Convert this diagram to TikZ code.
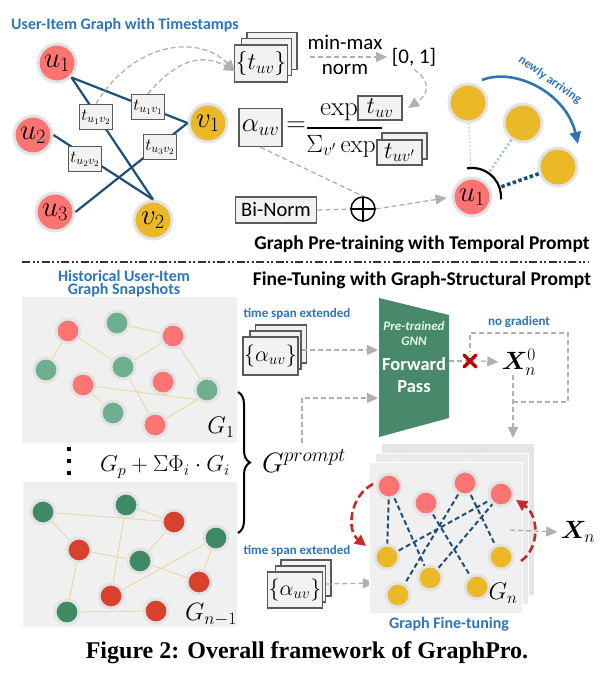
\RequirePackage{fix-cm}
\documentclass[tikz,border=0pt]{standalone}
\usepackage{fontspec}
\setsansfont{Carlito}
\newfontfamily\capfont{Liberation Serif}
\usepackage{bm}
\usetikzlibrary{arrows.meta,decorations.pathreplacing,calc}
\definecolor{cred}{HTML}{FF7373}
\definecolor{cyel}{HTML}{EBB828}
\definecolor{cring}{HTML}{E3E3E3}
\definecolor{cedge}{HTML}{1F4E79}
\definecolor{cbox}{HTML}{5A5A5A}
\definecolor{cboxf}{HTML}{F2F2F2}
\definecolor{cgray}{HTML}{B0B0B0}
\definecolor{cblue}{HTML}{2E75B6}
\definecolor{cpanel}{HTML}{F0F0F0}
\definecolor{cgl}{HTML}{6FAE8E}
\definecolor{cgd}{HTML}{3F8A64}
\definecolor{crd}{HTML}{D9412F}
\definecolor{cgnn}{HTML}{47896A}
\definecolor{cxr}{HTML}{C00000}
\definecolor{carc}{HTML}{C62A2A}
\definecolor{cgedge}{HTML}{E4DCA8}
\definecolor{clb1}{HTML}{BDD7EE}
\definecolor{clb2}{HTML}{9DC3E6}
\newcommand\setfs[1]{\fontsize{#1}{#1}\selectfont}
\begin{document}
\begin{tikzpicture}[x=1pt,y=-1pt,
  bignode/.style={circle,draw=cring,line width=3pt,minimum size=38pt,inner sep=0pt,font=\setfs{29}},
  unode/.style={bignode,fill=cred},
  ynode/.style={bignode,fill=cyel},
  sn/.style={circle,draw=cring,line width=3pt,minimum size=24pt,inner sep=0pt},
  tbox/.style={draw=cbox,fill=cboxf,line width=1.6pt,inner sep=1pt},
  ebox/.style={tbox,minimum width=33pt,minimum height=25pt,font=\setfs{17}},
  edgeb/.style={draw=cedge,line width=2.2pt},
  gdash/.style={draw=cgray,line width=1.3pt,dash pattern=on 5pt off 3pt},
  garrow/.style={gdash,-{Triangle[length=11pt,width=10pt,fill=cgray]}},
  btitle/.style={font=\sffamily\bfseries\setfs{16},text=cblue},
  bsmall/.style={font=\sffamily\bfseries\setfs{13},text=cblue},
  head/.style={font=\sffamily\bfseries\setfs{19.5}},
  sanst/.style={font=\sffamily\setfs{21}},
  mth/.style={font=\setfs{24}},
  gline/.style={draw=cgedge,line width=1pt},
  fedge/.style={draw=cedge,line width=2pt,dash pattern=on 5pt off 3pt},
  rarc/.style={draw=carc,line width=2.6pt,dash pattern=on 8pt off 4pt,-{Triangle[length=11pt,width=11pt,fill=carc]}}
]
\useasboundingbox (0,0) rectangle (602,680);

% ---------- top-left graph ----------
\node[btitle] (title1) at (125,25) {User-Item Graph with Timestamps};
\node[unode] (u1) at (57,63) {$u_1$};
\node[unode] (u2) at (33,135) {$u_2$};
\node[unode] (u3) at (55,212) {$u_3$};
\node[ynode] (v1) at (208,123) {$v_1$};
\node[ynode] (v2) at (153,220) {$v_2$};
\draw[edgeb] (u1.south east) -- (v1.west);
\draw[edgeb] (u1.south east) -- (v2.north);
\draw[edgeb] (u2.east) -- (v2.north);
\draw[edgeb] (u3.east) -- (v1.west);
\node[ebox] (b11) at (148,107) {$t_{u_1v_1}$};
\node[ebox] (b12) at (96,117) {$t_{u_1v_2}$};
\node[ebox] (b22) at (85,159) {$t_{u_2v_2}$};
\node[ebox] (b32) at (160,147) {$t_{u_3v_2}$};

% ---------- timestamp stack ----------
\node[tbox,minimum width=50pt,minimum height=37pt] (s3) at (272,51) {};
\node[tbox,minimum width=50pt,minimum height=37pt] (s2) at (266.5,57) {};
\node[tbox,minimum width=50pt,minimum height=37pt,font=\setfs{24}] (s1) at (261,63.5) {$\{t_{uv}\}$};
\coordinate (s1in) at (235,71);
\draw[garrow] (b12.north) .. controls (135,40) and (200,35) .. (s1in);
\draw[garrow] (b11.north) .. controls (175,62) and (200,52) .. (s1in);

\node[sanst] (mm) at (345,42) {min-max};
\node[sanst] (nm) at (345,69) {norm};
\node[sanst] (r01) at (414,57) {[0, 1]};
\coordinate (mmst) at (310,57);
\coordinate (mmen) at (387,57);
\draw[garrow] (mmst) -- (mmen);

% ---------- alpha formula ----------
\node[tbox,minimum width=43pt,minimum height=38pt,font=\setfs{27}] (alpha) at (260.5,127.5) {$\alpha_{uv}$};
\node[font=\setfs{27}] (eq) at (296,127) {$=$};
\node[font=\setfs{27}] (exp1) at (339,112) {$\exp$};
\node[tbox,minimum width=44pt,minimum height=24pt,font=\setfs{24}] (tnum) at (380,108) {$t_{uv}$};
\draw[line width=2pt] (307,128) -- (382,128);
\node[font=\setfs{25}] (den) at (341,146) {$\Sigma_{v'}\exp$};
\node[tbox,minimum width=45pt,minimum height=26pt] (tden2) at (404.5,146) {};
\node[tbox,minimum width=45pt,minimum height=25pt,font=\setfs{24}] (tden1) at (399.5,152.5) {$t_{uv'}$};
\coordinate (r01b) at (408,108);
\draw[garrow] (r01.south) .. controls (432,82) and (428,95) .. (r01b);

% ---------- Bi-Norm ----------
\node[tbox,minimum width=81pt,minimum height=26pt,font=\sffamily\setfs{20.5}] (bn) at (276,210) {Bi-Norm};
\node[circle,draw,line width=1.5pt,minimum size=24pt,inner sep=0pt] (op) at (363,209) {};
\draw[line width=1.5pt] (op.north) -- (op.south) (op.west) -- (op.east);
\draw[gdash] (alpha.south) -- (op.north);
\draw[gdash] (bn.east) -- (op.west);

% ---------- top-right ----------
\node[ynode] (ya) at (468,103) {};
\node[ynode] (yb) at (523,123) {};
\node[ynode] (yc) at (558,167) {};
\node[unode] (ur) at (472,197) {$u_1$};
\draw[garrow,shorten >=5pt] (op.east) -- (ur.west);
\draw[clb1,line width=1.6pt,dotted,shorten >=9pt] (ya) -- (ur);
\draw[clb2,line width=2.6pt,dash pattern=on 2pt off 2.5pt,shorten >=9pt] (yb) -- (ur);
\draw[cedge,line width=3.6pt,dash pattern=on 3.5pt off 2.5pt,shorten >=10pt] (yc) -- (ur);
\draw[line width=2.2pt] (467,168.4) arc[start angle=-100,end angle=5,radius=29];
\coordinate (na1) at (482,80);
\coordinate (na2) at (578,144);
\draw[cblue,line width=2.6pt,-{Triangle[length=12pt,width=11pt]}] (na1) .. controls (515,67) and (566,93) .. (na2);
\node[font=\sffamily\bfseries\setfs{12.5},text=cblue,rotate=-35] (nat) at (550,80) {newly arriving};

% ---------- headings ----------
\node[head] (h1) at (422,244) {Graph Pre-training with Temporal Prompt};
\draw[black!80,line width=1.5pt,dash pattern=on 8pt off 2.5pt on 2pt off 2.5pt on 2pt off 2.5pt] (22,262) -- (588,262);
\node[head] (h2) at (422,280) {Fine-Tuning with Graph-Structural Prompt};
\node[btitle] (hist1) at (124,276) {Historical User-Item};
\node[btitle] (hist2) at (124,290) {Graph Snapshots};

% ---------- G1 ----------
\fill[cpanel] (22,297) rectangle (237,443);
\node[sn,fill=cred] (ga) at (68,331) {};
\node[sn,fill=cgl] (gb) at (117,323) {};
\node[sn,fill=cred] (gc) at (173,336) {};
\node[sn,fill=cgl] (gd) at (46,370) {};
\node[sn,fill=cgl] (ge) at (123,367) {};
\node[sn,fill=cred] (gf) at (163,382) {};
\node[sn,fill=cred] (gg) at (83,385) {};
\node[sn,fill=cgl] (gh) at (207,390) {};
\node[sn,fill=cgl] (gi) at (113,413) {};
\node[sn,fill=cred] (gj) at (155,425) {};
\draw[gline] (ga) -- (gd) (ga) -- (ge) (gb) -- (gc) (ge) -- (gc) (gc) -- (gh)
  (gg) -- (gi) (gg) -- (gh.south west) (gh.south west) -- (gj) (ge) -- (gj);
\node[mth] (lg1) at (221,427) {$G_1$};

\foreach \yy in {447,459,471,483} \fill (67,\yy) rectangle ++(3.5,3.5);
\node[font=\setfs{23}] (gp) at (165,467) {$G_p + \Sigma\Phi_i \cdot G_i$};
\draw[decorate,decoration={brace,amplitude=12pt},line width=2pt] (238,392) -- (238,533);
\node[font=\setfs{28}] (gpr) at (304,461) {$G^{prompt}$};

% ---------- G_{n-1} ----------
\fill[cpanel] (23,482) rectangle (237,627);
\node[sn,fill=cgd] (na) at (43,512) {};
\node[sn,fill=cgd] (nb) at (126,505) {};
\node[sn,fill=crd] (nc) at (174,522) {};
\node[sn,fill=cgd] (nd) at (216,538) {};
\node[sn,fill=crd] (ne) at (79,550) {};
\node[sn,fill=cgd] (nf) at (140,561) {};
\node[sn,fill=crd] (ng) at (199,582) {};
\node[sn,fill=crd] (nh) at (111,596) {};
\node[sn,fill=cgd] (ni) at (67,612) {};
\node[sn,fill=crd] (nj) at (156,611) {};
\draw[gline] (na) -- (nc) (na) -- (ne) (nb) -- (nc) (nb) -- (nh) (ne) -- (nf) (nf) -- (nc)
  (nf) -- (ng) (nd) -- (ng) (nd) -- (nh) (ne) -- (ni) (ni) -- (nj);
\node[font=\setfs{25}] (lgn1) at (211,615) {$G_{n-1}$};

% ---------- alpha stacks ----------
\node[bsmall] (tse1) at (297,314) {time span extended};
\node[tbox,minimum width=51pt,minimum height=38pt] (as3) at (281,344) {};
\node[tbox,minimum width=51pt,minimum height=38pt] (as2) at (275.5,350) {};
\node[tbox,minimum width=51pt,minimum height=38pt,font=\setfs{22}] (as1) at (270.5,356) {$\{\alpha_{uv}\}$};
\coordinate (gin1) at (378,350);
\draw[garrow] (as2.east) -- (gin1);

\node[bsmall] (tse2) at (297,551) {time span extended};
\node[tbox,minimum width=50pt,minimum height=36pt] (bs3) at (306,578) {};
\node[tbox,minimum width=50pt,minimum height=36pt] (bs2) at (300.5,584) {};
\node[tbox,minimum width=50pt,minimum height=36pt,font=\setfs{22}] (bs1) at (295,590) {$\{\alpha_{uv}\}$};
\coordinate (gnin) at (374,583);
\draw[garrow] (bs2.east) -- (gnin);

% prompt arrow
\coordinate (pc1) at (302,443);
\coordinate (pc2) at (302,398);
\coordinate (gin2) at (378,398);
\draw[garrow] (pc1) -- (pc2) -- (gin2);

% ---------- GNN ----------
\fill[cgnn] (379,298) -- (449,315) -- (449,418) -- (379,437) -- cycle;
\node[font=\sffamily\bfseries\itshape\setfs{13},text=green!12!white] (pt1) at (414,326) {Pre-trained};
\node[font=\sffamily\bfseries\itshape\setfs{13},text=green!12!white] (pt2) at (414,341) {GNN};
\node[font=\sffamily\bfseries\setfs{18.5},text=white] (fw) at (414,364) {Forward};
\node[font=\sffamily\bfseries\setfs{18.5},text=white] (ps) at (414,387) {Pass};

% X_n^0 and no gradient
\node[font=\setfs{25}] (x0) at (519,362) {$\bm{X}_n^0$};
\coordinate (gout) at (449,361);
\coordinate (xm) at (470,361);
\draw[gdash] (gout) -- (xm);
\coordinate (xa) at (481,361);
\draw[garrow] (xa) -- (x0.west);
\draw[cxr,line width=3.5pt,line cap=round] (464,355) -- (476,367) (464,367) -- (476,355);
\node[bsmall] (nog) at (519,322) {no gradient};
\coordinate (ng1) at (513,402);
\coordinate (ng2) at (568,402);
\coordinate (ng3) at (568,333);
\coordinate (ng4) at (470,333);
\coordinate (ng5) at (470,352);
\draw[gdash] (ng1) -- (ng2) -- (ng3) -- (ng4) -- (ng5);
\coordinate (x0d) at (513,438);
\coordinate (x0s) at (513,375);
\draw[garrow] (x0s) -- (x0d);

% ---------- G_n stack ----------
\fill[cpanel!90!gray,draw=white,line width=1pt] (381,443) rectangle (534,595);
\node[circle,fill=cring,minimum size=26pt,inner sep=0pt] (fb1) at (400,462) {};
\node[circle,fill=cring,minimum size=26pt,inner sep=0pt] (fb2) at (474,462) {};
\fill[cpanel!95!gray,draw=white,line width=1pt] (375,453) rectangle (528,604);
\node[circle,fill=cring!60!white,minimum size=26pt,inner sep=0pt] (fm1) at (395,471) {};
\node[circle,fill=cring!60!white,minimum size=26pt,inner sep=0pt] (fm2) at (469,470) {};
\fill[cpanel,draw=white,line width=1pt] (369,462) rectangle (522,613);
\node[sn,fill=cred] (r1) at (389,486) {};
\node[sn,fill=cred] (r2) at (426,503) {};
\node[sn,fill=cred] (r3) at (465,483) {};
\node[sn,fill=cred] (r4) at (501,494) {};
\node[sn,fill=cyel] (y1) at (387,557) {};
\node[sn,fill=cyel] (y2) at (430,578) {};
\node[sn,fill=cyel] (y3) at (398,595) {};
\node[sn,fill=cyel] (y4) at (477,587) {};
\node[sn,fill=cyel] (y5) at (501,557) {};
\draw[fedge] (r1) -- (y1) (r1) -- (y2) (r2) -- (y4) (r3) -- (y3) (r3) -- (y5) (y1) -- (r4) (y2) -- (r4);
\node[mth] (lgn) at (503,593) {$G_n$};
\node[btitle] (gft) at (449,624) {Graph Fine-tuning};
\coordinate (la1) at (373,484);
\coordinate (la2) at (366,546);
\draw[rarc] (la1) .. controls (350,496) and (346,530) .. (la2);
\coordinate (ra1) at (521,561);
\coordinate (ra2) at (516,500);
\draw[rarc] (ra1) .. controls (540,548) and (539,515) .. (ra2);
\node[font=\setfs{25}] (xn) at (578,532) {$\bm{X}_n$};
\coordinate (gno) at (510,530);
\draw[garrow] (gno) -- (xn.west);

% ---------- caption ----------
\node[font=\capfont\bfseries\setfs{24}] (cap) at (307,653) {Figure 2: Overall framework of GraphPro.};
\end{tikzpicture}
\end{document}
